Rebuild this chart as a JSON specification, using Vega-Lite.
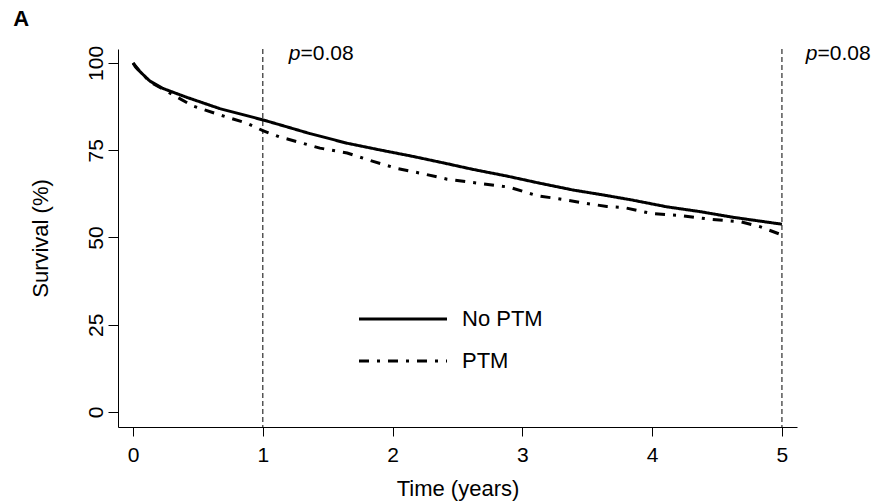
{
  "$schema": "https://vega.github.io/schema/vega-lite/v6.json",
  "width": 679,
  "height": 378,
  "autosize": {"type": "none"},
  "padding": {"left": 118, "top": 49, "right": 88, "bottom": 77},
  "background": "white",
  "config": {
    "view": {"stroke": null},
    "font": "Liberation Sans",
    "axis": {
      "grid": false,
      "domainColor": "black",
      "domainWidth": 1,
      "tickColor": "black",
      "tickWidth": 1,
      "labelColor": "black",
      "titleColor": "black",
      "labelFont": "Liberation Sans",
      "titleFont": "Liberation Sans",
      "labelFontSize": 21,
      "titleFontSize": 21,
      "titleFontWeight": "normal",
      "labelFlush": false,
      "labelOverlap": false
    }
  },
  "datasets": {
    "surv": [
      {"t": 0, "s": 100, "group": "No PTM"},
      {"t": 0.02, "s": 98.8, "group": "No PTM"},
      {"t": 0.054, "s": 97.5, "group": "No PTM"},
      {"t": 0.13, "s": 94.8, "group": "No PTM"},
      {"t": 0.23, "s": 92.7, "group": "No PTM"},
      {"t": 0.41, "s": 90.2, "group": "No PTM"},
      {"t": 0.67, "s": 86.9, "group": "No PTM"},
      {"t": 1.0, "s": 83.7, "group": "No PTM"},
      {"t": 1.13, "s": 82.3, "group": "No PTM"},
      {"t": 1.36, "s": 79.8, "group": "No PTM"},
      {"t": 1.65, "s": 77.0, "group": "No PTM"},
      {"t": 1.9, "s": 75.1, "group": "No PTM"},
      {"t": 2.16, "s": 73.2, "group": "No PTM"},
      {"t": 2.4, "s": 71.3, "group": "No PTM"},
      {"t": 2.62, "s": 69.5, "group": "No PTM"},
      {"t": 2.88, "s": 67.6, "group": "No PTM"},
      {"t": 3.14, "s": 65.5, "group": "No PTM"},
      {"t": 3.39, "s": 63.6, "group": "No PTM"},
      {"t": 3.62, "s": 62.2, "group": "No PTM"},
      {"t": 3.85, "s": 60.7, "group": "No PTM"},
      {"t": 4.11, "s": 58.8, "group": "No PTM"},
      {"t": 4.37, "s": 57.4, "group": "No PTM"},
      {"t": 4.62, "s": 55.8, "group": "No PTM"},
      {"t": 5.0, "s": 53.8, "group": "No PTM"},
      {"t": 0, "s": 100, "group": "PTM"},
      {"t": 0.054, "s": 97.5, "group": "PTM"},
      {"t": 0.13, "s": 94.6, "group": "PTM"},
      {"t": 0.23, "s": 92.5, "group": "PTM"},
      {"t": 0.35, "s": 90.0, "group": "PTM"},
      {"t": 0.46, "s": 87.7, "group": "PTM"},
      {"t": 0.67, "s": 85.1, "group": "PTM"},
      {"t": 0.88, "s": 82.7, "group": "PTM"},
      {"t": 1.0, "s": 80.6, "group": "PTM"},
      {"t": 1.13, "s": 78.8, "group": "PTM"},
      {"t": 1.23, "s": 77.8, "group": "PTM"},
      {"t": 1.44, "s": 75.6, "group": "PTM"},
      {"t": 1.65, "s": 74.2, "group": "PTM"},
      {"t": 1.85, "s": 71.8, "group": "PTM"},
      {"t": 2.03, "s": 69.8, "group": "PTM"},
      {"t": 2.23, "s": 68.3, "group": "PTM"},
      {"t": 2.42, "s": 66.7, "group": "PTM"},
      {"t": 2.67, "s": 65.5, "group": "PTM"},
      {"t": 2.9, "s": 64.4, "group": "PTM"},
      {"t": 3.11, "s": 62.0, "group": "PTM"},
      {"t": 3.31, "s": 60.9, "group": "PTM"},
      {"t": 3.52, "s": 59.6, "group": "PTM"},
      {"t": 3.65, "s": 58.9, "group": "PTM"},
      {"t": 3.78, "s": 58.6, "group": "PTM"},
      {"t": 3.99, "s": 56.9, "group": "PTM"},
      {"t": 4.22, "s": 56.3, "group": "PTM"},
      {"t": 4.45, "s": 55.2, "group": "PTM"},
      {"t": 4.68, "s": 54.5, "group": "PTM"},
      {"t": 4.83, "s": 53.1, "group": "PTM"},
      {"t": 4.98, "s": 51.0, "group": "PTM"}
    ],
    "vlines": [{"t": 1}, {"t": 5}],
    "plabels": [
      {"t": 1.29, "s": 100.9, "italic": "p", "rest": "=0.08"},
      {"t": 5.274, "s": 100.9, "italic": "p", "rest": "=0.08"}
    ],
    "panel": [{"t": -0.924, "s": 110.6, "label": "A"}]
  },
  "encoding": {
    "x": {
      "field": "t", "type": "quantitative",
      "scale": {"domain": [-0.116, 5.116], "nice": false, "zero": false},
      "axis": {"title": "Time (years)", "values": [0, 1, 2, 3, 4, 5], "tickSize": 9, "labelPadding": 8, "titlePadding": 13, "titleFontSize": 22}
    }
  },
  "layer": [
    {
      "data": {"name": "vlines"},
      "mark": {"type": "rule", "color": "black", "strokeWidth": 1, "strokeDash": [5, 3]},
      "encoding": {}
    },
    {
      "data": {"name": "surv"},
      "mark": {"type": "line", "color": "black", "strokeWidth": 3, "strokeCap": "butt"},
      "encoding": {
        "y": {
          "field": "s", "type": "quantitative",
          "scale": {"domain": [-4.3, 104], "nice": false, "zero": false},
          "axis": {"title": "Survival (%)", "values": [0, 25, 50, 75, 100], "tickSize": 10, "labelAngle": -90, "labelAlign": "center", "labelBaseline": "alphabetic", "labelPadding": 6, "titlePadding": 33, "titleFontSize": 22}
        },
        "strokeDash": {
          "field": "group", "type": "nominal",
          "scale": {"domain": ["No PTM", "PTM"], "range": [[1, 0], [10, 8, 3, 8]]},
          "legend": {
            "title": null,
            "orient": "none",
            "legendX": 239.5,
            "legendY": 249,
            "padding": 0,
            "offset": 0,
            "symbolType": "stroke",
            "symbolSize": 7744,
            "symbolStrokeWidth": 3,
            "symbolStrokeColor": "black",
            "clipHeight": 42,
            "rowPadding": 0,
            "labelOffset": 13.5,
            "labelFontSize": 22,
            "labelFont": "Liberation Sans",
            "labelColor": "black",
            "labelLimit": 300
          }
        }
      }
    },
    {
      "data": {"name": "plabels"},
      "mark": {"type": "text", "align": "right", "baseline": "alphabetic", "fontSize": 21, "fontStyle": "italic", "color": "black"},
      "encoding": {
        "y": {"field": "s", "type": "quantitative", "scale": {"domain": [-4.3, 104], "nice": false, "zero": false}},
        "text": {"field": "italic"}
      }
    },
    {
      "data": {"name": "plabels"},
      "mark": {"type": "text", "align": "left", "baseline": "alphabetic", "fontSize": 21, "color": "black"},
      "encoding": {
        "y": {"field": "s", "type": "quantitative", "scale": {"domain": [-4.3, 104], "nice": false, "zero": false}},
        "text": {"field": "rest"}
      }
    },
    {
      "data": {"name": "panel"},
      "mark": {"type": "text", "align": "left", "baseline": "alphabetic", "fontSize": 22, "fontWeight": "bold", "color": "black"},
      "encoding": {
        "y": {"field": "s", "type": "quantitative", "scale": {"domain": [-4.3, 104], "nice": false, "zero": false}},
        "text": {"field": "label"}
      }
    }
  ]
}
